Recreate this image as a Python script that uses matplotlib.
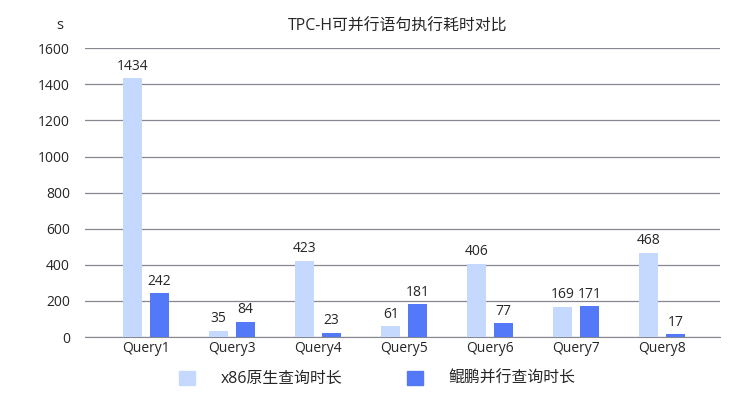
import matplotlib.pyplot as plt
import numpy as np

plt.rcParams['font.family'] = ['Open Sans', 'Noto Sans CJK SC', 'DejaVu Sans']

queries = ['Query1', 'Query3', 'Query4', 'Query5', 'Query6', 'Query7', 'Query8']
x86_times = [1434, 35, 423, 61, 406, 169, 468]
kunpeng_times = [242, 84, 23, 181, 77, 171, 17]
series_names = ['x86原生查询时长', '鲲鹏并行查询时长']
light = '#C5D8FE'
dark = '#5479F8'

fig = plt.figure(figsize=(7.33, 3.98), dpi=100)
ax = fig.add_axes([0.116, 0.153, 0.866, 0.726])

x = np.arange(len(queries))
w = 0.22
off = 0.155
b1 = ax.bar(x - off, x86_times, w, color=light, zorder=3)
b2 = ax.bar(x + off, kunpeng_times, w, color=dark, zorder=3)

for bars, vals in ((b1, x86_times), (b2, kunpeng_times)):
    for b, v in zip(bars, vals):
        ax.text(b.get_x() + b.get_width() / 2, v + 25, str(v), ha='center', va='bottom',
                fontsize=10, color='#262626')

ax.set_ylim(0, 1600)
ax.set_xlim(-0.71, 6.67)
ax.set_yticks(range(0, 1601, 200))
ax.set_xticks(x)
ax.set_xticklabels(queries)
ax.grid(axis='y', color='#878790', linewidth=0.9, zorder=0)
for s in ['top', 'right', 'left']:
    ax.spines[s].set_visible(False)
ax.spines['bottom'].set_color('#878790')
ax.tick_params(length=0, labelsize=10, colors='#262626')
ax.tick_params(axis='y', pad=11)
ax.tick_params(axis='x', pad=3)

fig.text(0.543, 0.932, 'TPC-H可并行语句执行耗时对比', ha='center', va='center',
         fontsize=11.4, color='#262626')
fig.text(0.082, 0.936, 's', ha='center', va='center', fontsize=10.5, color='#262626')

handles = [plt.Rectangle((0, 0), 1, 1, color=light), plt.Rectangle((0, 0), 1, 1, color=dark)]
fig.legend(handles, series_names, loc='center', bbox_to_anchor=(0.515, 0.048), ncol=2,
           frameon=False, fontsize=11.4, handlelength=1.0, handleheight=1.0,
           handletextpad=1.6, columnspacing=4.1, labelcolor='#262626')

fig.savefig('out.png', dpi=100)
